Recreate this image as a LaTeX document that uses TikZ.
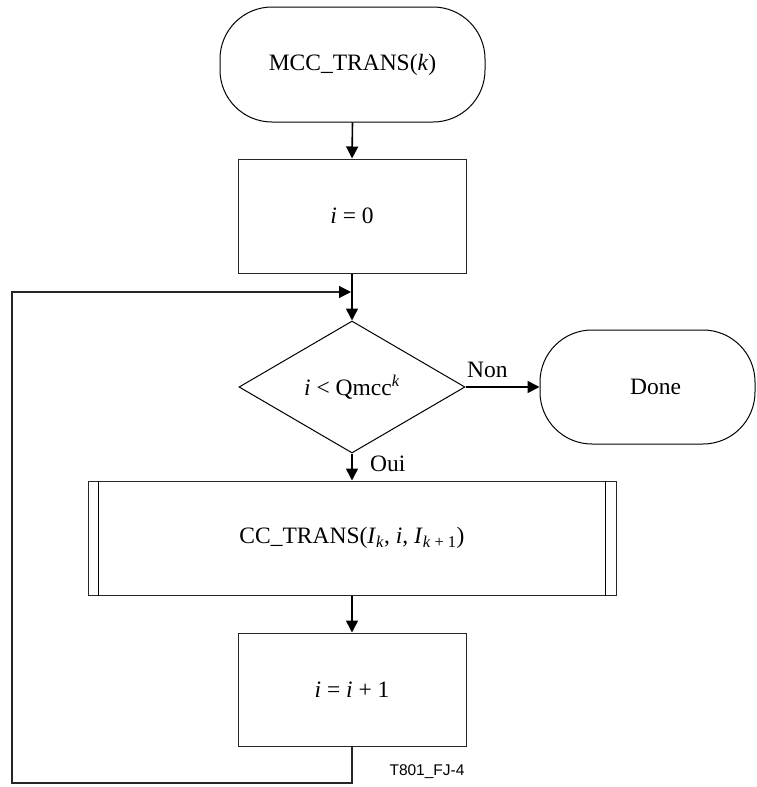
\documentclass[tikz,border=0pt]{standalone}
\usepackage{fontspec}
\setmainfont{Liberation Serif}
\newfontfamily\labelfont{Liberation Sans}
\usetikzlibrary{shapes.geometric,arrows.meta}
\tikzset{
  box/.style={draw=black!85, line width=1pt, rectangle, inner sep=0pt, font=\fontsize{23.5}{27}\selectfont},
  term/.style={draw=black, line width=1pt, rectangle, rounded corners=52pt, inner sep=0pt, font=\fontsize{23.5}{27}\selectfont},
  decision/.style={draw=black, line width=1pt, diamond, inner sep=0pt, font=\fontsize{23.5}{27}\selectfont},
  flow/.style={line width=1.6pt, -{Triangle[length=12pt,width=12pt]}},
  loopline/.style={line width=1.2pt, draw=black!85},
  lbl/.style={font=\fontsize{23.5}{27}\selectfont, inner sep=0pt}
}
\begin{document}
\begin{tikzpicture}[x=1pt,y=-1pt]
\useasboundingbox (0,0) rectangle (756,787);
\node[term, minimum width=265pt, minimum height=115pt] (start) at (352.5,64.5) {MCC\_TRANS(\textit{k})};
\node[box, minimum width=228pt, minimum height=114pt] (init) at (352,216) {\textit{i} = 0};
\node[decision, minimum width=226pt, minimum height=132pt] (cond) at (352,387) {\textit{i} < Qmcc\textsuperscript{\textit{k}}};
\node[term, minimum width=215pt, minimum height=114pt] (done) at (647.5,387) {\hspace{16pt}Done};
\node[box, minimum width=528pt, minimum height=114pt] (cc) at (352,538) {CC\_TRANS(\textit{I}\textsubscript{\textit{k}}, \textit{i}, \textit{I}\textsubscript{\textit{k} + 1})};
\draw[line width=1.6pt] ([xshift=11pt]cc.north west) -- ([xshift=11pt]cc.south west);
\draw[line width=1.6pt] ([xshift=-11pt]cc.north east) -- ([xshift=-11pt]cc.south east);
\node[box, minimum width=228pt, minimum height=113pt] (inc) at (352,689.5) {\textit{i} = \textit{i} + 1};
\coordinate (merge) at (352,292);
\coordinate (b1) at (352,783);
\coordinate (b2) at (12,783);
\coordinate (b3) at (12,292);
\draw[flow] (start.south) -- (init.north);
\draw[line width=1.6pt] (init.south) -- (merge);
\draw[flow] (merge) -- (cond.north);
\draw[flow] (cond.east) -- (done.west);
\draw[flow] (cond.south) -- (cc.north);
\draw[flow] (cc.south) -- (inc.north);
\draw[loopline] (inc.south) -- (b1) -- (b2) -- (b3) -- ([xshift=-13pt]merge);
\draw[flow, line width=1.2pt] ([xshift=-13pt]merge) -- ([xshift=-1pt]merge);
\node[lbl, anchor=south west] (non) at (467,378) {Non};
\node[lbl, anchor=west] (oui) at (370,464) {Oui};
\node[font=\labelfont\fontsize{15.5}{18}\selectfont, inner sep=0pt] (tag) at (427,772) {T801\_FJ-4};
\end{tikzpicture}
\end{document}
